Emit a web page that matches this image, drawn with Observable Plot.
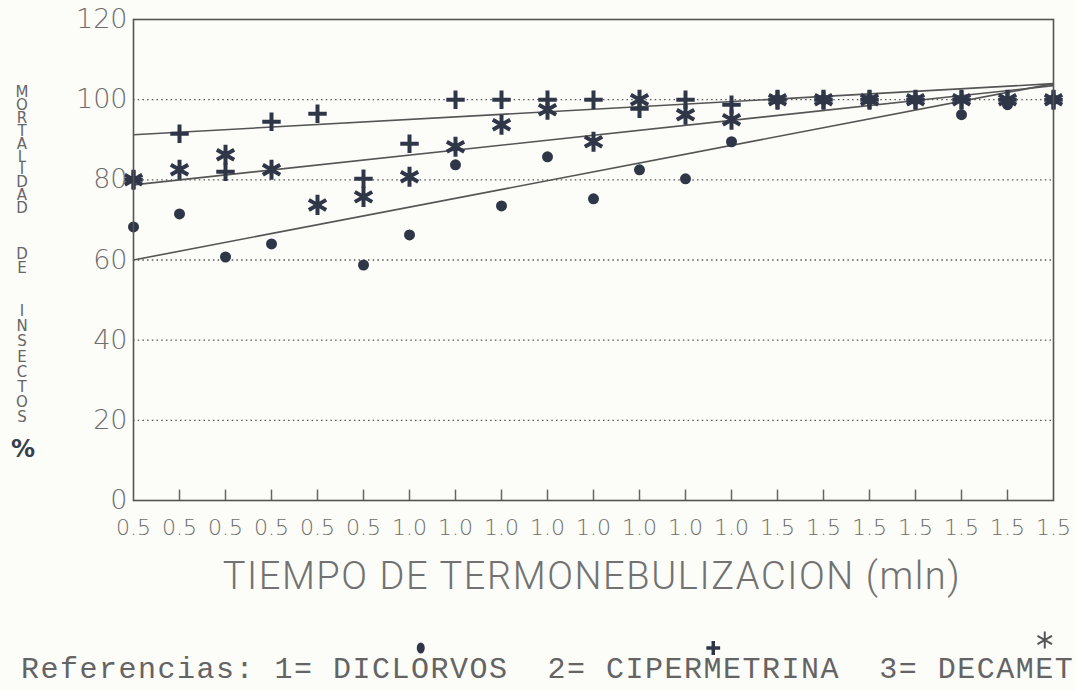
<!DOCTYPE html>
<html>
<head>
<meta charset="utf-8">
<script src="https://cdn.jsdelivr.net/npm/d3@7"></script>
<script src="https://cdn.jsdelivr.net/npm/@observablehq/plot@0.6"></script>
<style>
  html, body { margin: 0; padding: 0; background: #fcfcf8; overflow: hidden; }
  #wrap { position: relative; width: 1076px; height: 690px; overflow: hidden; }
  #chart { position: absolute; left: 0; top: 0; }
  .yt { position: absolute; left: 14px; writing-mode: vertical-lr; text-orientation: upright;
        font-family: "DejaVu Sans"; font-size: 15px; line-height: 15px; color: #666; white-space: nowrap; }
  .pct { position: absolute; left: 11px; top: 437px; font-family: "DejaVu Sans"; font-weight: bold; font-size: 24px; line-height: 24px; color: #3a3f4d; }
  #xtitle { position: absolute; left: 592px; top: 557px; transform: translateX(-50%); white-space: nowrap;
            font-family: "Roboto"; font-weight: 300; font-size: 38px; line-height: 38px; letter-spacing: 1.6px; color: #727272; }
  #legend { position: absolute; left: 21px; top: 655px; white-space: pre; font-family: "Liberation Mono";
            font-size: 30px; line-height: 30px; letter-spacing: 1.5px; color: #646464; }
  #legsym { position: absolute; left: 0; top: 620px; }
</style>
</head>
<body>
<div id="wrap">
  <div id="chart"></div>
  <div id="ytitle"></div>
  <div id="xtitle">TIEMPO DE TERMONEBULIZACION (mln)</div>
  <svg id="legsym" width="1076" height="40"></svg>
  <div id="legend"></div>
</div>
<script>
// ---- data ----
const labels = ["0.5","0.5","0.5","0.5","0.5","0.5",
                "1.0","1.0","1.0","1.0","1.0","1.0","1.0","1.0",
                "1.5","1.5","1.5","1.5","1.5","1.5","1.5"];
// 1 = DICLORVOS (dots)
const diclorvos    = [68.25, 71.5, 60.75, 64, null, 58.75, 66.25, 83.75, 73.5, 85.75, 75.25, 82.5, 80.25, 89.5, 100, 100, 100, 100, 96.25, 98.75, 100];
// 2 = CIPERMETRINA (plus)
const cipermetrina = [80, 91.5, 82, 94.5, 96.5, 80.25, 89, 100, 100, 100, 100, 97.75, 100, 98.75, 100, 100, 100, 100, 100, 100, 100];
// 3 = DECAMETRINA (asterisk)
const decametrina  = [80, 82.5, 86.25, 82.5, 73.75, 75.75, 80.75, 88.25, 93.75, 97.5, 89.5, 100, 96.25, 95, 100, 100, 100, 100, 100, 100, 100];
const seriesNames = ["DICLORVOS", "CIPERMETRINA", "DECAMETRINA"];
// fitted trend lines: value at first and last category
const fitStart = [60, 91.25, 78.75];
const fitEnd   = [104, 104, 103.5];
const yTicks = [0, 20, 40, 60, 80, 100, 120];
const gridValues = [20, 40, 60, 80, 100];
const yTitleWords = ["MORTALIDAD", "DE", "INSECTOS"];
const yTitleUnit = "%";
// legend as printed (cut at the right edge in the reference)
const legendText = "Referencias: 1= DICLORVOS  2= CIPERMETRINA  3= DECAMET";

// ---- build ----
const ink = "#2f3648";
const idx = labels.map((_, i) => i);
const pts = s => idx.map(i => ({i, v: s[i]})).filter(d => d.v != null);
const fits = seriesNames.map((name, k) => ({name, x1: 0, x2: labels.length - 1, y1: fitStart[k], y2: fitEnd[k]}));

const chart = Plot.plot({
  width: 1076, height: 610,
  marginLeft: 133, marginRight: 23, marginTop: 19, marginBottom: 110,
  style: {background: "transparent", fontFamily: "DejaVu Sans", color: "#6e6e6e"},
  x: {domain: [0, labels.length - 1]},
  y: {domain: [0, 120]},
  marks: [
    Plot.ruleY(gridValues, {stroke: "#555", strokeWidth: 1.3, strokeDasharray: "1.5,3.2"}),
    Plot.ruleX(idx.slice(1, -1), {y1: 0, y2: 2.6, stroke: "#666", strokeWidth: 1.5}),
    Plot.link(fits, {x1: "x1", x2: "x2", y1: "y1", y2: "y2", stroke: "#555", strokeWidth: 1.6}),
    Plot.dot(pts(diclorvos), {x: "i", y: "v", r: 5.5, fill: ink, stroke: "none"}),
    Plot.dot(pts(cipermetrina), {x: "i", y: "v", symbol: "plus", r: 6, stroke: ink, strokeWidth: 4}),
    Plot.dot(pts(decametrina), {x: "i", y: "v", symbol: "asterisk", r: 9.5, stroke: ink, strokeWidth: 4}),
    Plot.frame({stroke: "#555", strokeWidth: 1.6}),
    Plot.axisY(yTicks, {tickSize: 0, tickPadding: 6, fontSize: 27, fontWeight: 200, label: null}),
    Plot.axisX(idx, {tickSize: 0, tickPadding: 19, tickFormat: i => labels[i], fontSize: 22, fontWeight: 200, label: null})
  ]
});
document.getElementById("chart").append(chart);

// y title: stacked upright letters, one text element per word
const yt = document.getElementById("ytitle");
const wordLayout = [{top: 83, pitch: 12.9}, {top: 245, pitch: 14}, {top: 302, pitch: 15.2}];
yTitleWords.forEach((w, k) => {
  const d = document.createElement("div");
  d.className = "yt";
  d.textContent = w;
  d.style.top = wordLayout[k].top + "px";
  yt.append(d);
  const natural = d.getBoundingClientRect().height / w.length;
  d.style.letterSpacing = (wordLayout[k].pitch - natural) + "px";
});
const pct = document.createElement("div");
pct.className = "pct";
pct.textContent = yTitleUnit;
yt.append(pct);

// legend
document.getElementById("legend").textContent = legendText;
const pitch = 19.5, x0 = 21;
const symIdx = [legendText.indexOf("DICLORVOS") + 4, legendText.indexOf("CIPERMETRINA") + 5, legendText.indexOf("DECAMET") + 5];
const sv = d3.select("#legsym");
const sx = i => x0 + (i + 0.5) * pitch;
sv.append("ellipse").attr("cx", sx(symIdx[0])).attr("cy", 28).attr("rx", 4).attr("ry", 5.5).attr("fill", ink);
sv.append("path").attr("transform", `translate(${sx(symIdx[1])},28)`)
  .attr("d", d3.symbol(d3.symbolPlus, 64)()).attr("stroke", ink).attr("stroke-width", 3.5).attr("fill", "none");
sv.append("path").attr("transform", `translate(${sx(symIdx[2])},20)`)
  .attr("d", d3.symbol(d3.symbolAsterisk, 200)()).attr("stroke", "#555").attr("stroke-width", 2).attr("fill", "none");
</script>
</body>
</html>
